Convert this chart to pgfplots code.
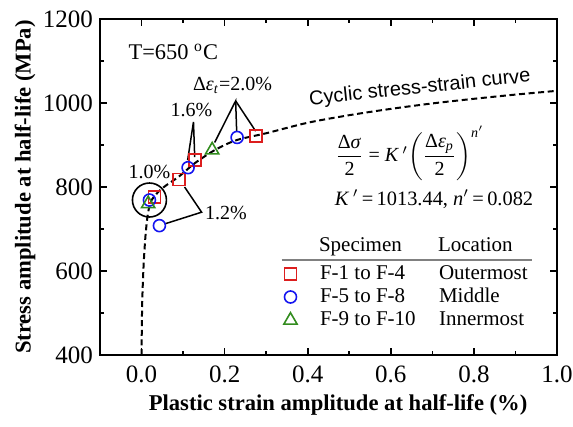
\documentclass[border=0pt]{standalone}
\usepackage{pgfplots}
\pgfplotsset{compat=1.18}
\usepackage{fontspec}
\setmainfont{Liberation Serif}
\newfontfamily\arialfont{Liberation Sans}
\definecolor{cred}{RGB}{220,30,30}
\definecolor{cblue}{RGB}{20,20,240}
\definecolor{cgreen}{RGB}{50,140,30}
\begin{document}
\begin{tikzpicture}
\begin{axis}[
  scale only axis, width=228.5pt, height=168pt,
  xmin=-0.1, xmax=1.0, ymin=400, ymax=1200,
  xtick={0,0.2,0.4,0.6,0.8,1.0}, ytick={400,600,800,1000,1200},
  minor x tick num=1, minor y tick num=1,
  tick align=inside, major tick length=3.5pt, minor tick length=2pt,
  /pgf/number format/assume math mode=true,
  /pgf/number format/1000 sep={},
  xticklabel style={yshift=-2pt, /pgf/number format/.cd, fixed, fixed zerofill, precision=1},
  axis line style={line width=1pt},
  every tick/.style={line width=0.8pt, black},
  tick label style={font=\fontsize{12.5}{14}\selectfont},
  label style={font=\fontsize{11.3}{13}\selectfont},
  xlabel={\textbf{Plastic strain amplitude at half-life (\%)}},
  ylabel={\textbf{Stress amplitude at half-life (MPa)}},
  xlabel style={at={(axis description cs:0.521,-0.1488)}, anchor=center},
  ylabel style={at={(axis description cs:-0.164,0.5)}, anchor=center},
  clip=false,
  legend style={at={(axis cs:0.302,700)}, anchor=north west, draw=none, fill=none,
    font=\fontsize{10.5}{12}\selectfont, row sep=-1pt},
  legend cell align=left,
]
\addlegendimage{empty legend}
\addlegendentry{\raisebox{2.5pt}{\hspace{9pt}\makebox[59.5pt][l]{Specimen}Location}}

\addplot[black, line width=1pt, dash pattern=on 3pt off 1.8pt, smooth, tension=0.5, forget plot] coordinates {
(0.0,400) (0.0015,520) (0.005,615) (0.01,690) (0.016,740) (0.025,770) (0.05,797)
(0.09,825) (0.13,858) (0.18,890) (0.23,912) (0.3,928) (0.4,953) (0.5,971)
(0.6,986) (0.7,999) (0.8,1010) (0.9,1020) (1.0,1029)};

\addplot[only marks, mark=square, mark size=3pt, cred, line width=0.8pt] coordinates {
(0.031,776) (0.090,818) (0.129,864) (0.276,921)};
\addlegendentry{\hspace{9.5pt}\makebox[59.5pt][l]{F-1 to F-4}Outermost}
\addplot[only marks, mark=o, mark size=3pt, cblue, line width=0.8pt] coordinates {
(0.019,769) (0.043,708) (0.112,846) (0.230,918)};
\addlegendentry{\hspace{9.5pt}\makebox[59.5pt][l]{F-5 to F-8}Middle}
\addplot[only marks, mark=triangle, mark size=3.8pt, cgreen, line width=0.8pt] coordinates {
(0.016,760) (0.170,888)};
\addlegendentry{\hspace{9.5pt}\makebox[59.5pt][l]{F-9 to F-10}Innermost}

% header rule
\draw[gray, line width=1pt] (axis cs:0.337,626) -- (axis cs:0.94,626);

% annotations
\node[anchor=west, font=\fontsize{11.2}{13}\selectfont] at (axis cs:-0.048,1121) {T=650 \textsuperscript{o}C};
\node[font=\arialfont\fontsize{10}{12}\selectfont, rotate=6] at (axis cs:0.67,1035) {Cyclic stress-strain curve};
\node[font=\fontsize{10}{12}\selectfont] at (axis cs:0.646,880)
  {$\displaystyle\frac{\mbox{Δ\textit{σ}}}{\mbox{2}}\mbox{ = \textit{K}\,$'$}\!\left(\frac{\mbox{Δ\textit{ε}\textsubscript{\textit{p}}}}{\mbox{2}}\right)^{\mbox{\scriptsize\textit{n}$'$}}$};
\node[font=\fontsize{10.2}{12}\selectfont] at (axis cs:0.704,771) {\textit{K}\,$'$\,=\,1013.44, \textit{n}$'$\,=\,0.082};

\draw[line width=0.8pt] (axis cs:0.019,769) circle[radius=8.5pt];
\node[font=\fontsize{10}{12}\selectfont] at (axis cs:0.019,836) {1.0\%};

\node[anchor=west, font=\fontsize{10}{12}\selectfont, inner sep=1pt] at (axis cs:0.147,738) {1.2\%};
\draw[line width=0.75pt] (axis cs:0.1036,800) -- (axis cs:0.1446,740) -- (axis cs:0.0554,712);

\node[font=\fontsize{10}{12}\selectfont] at (axis cs:0.12,983) {1.6\%};
\draw[line width=0.75pt] (axis cs:0.111,864) -- (axis cs:0.125,955) -- (axis cs:0.128,871);

\node[font=\fontsize{10}{12}\selectfont] at (axis cs:0.219,1043) {Δ\textit{ε}\textsubscript{\textit{t}}=2.0\%};
\draw[line width=0.75pt] (axis cs:0.176,906) -- (axis cs:0.2265,1005) -- (axis cs:0.229,931);
\draw[line width=0.75pt] (axis cs:0.2265,1005) -- (axis cs:0.2747,933);
\end{axis}
\pgfresetboundingbox
\path ([xshift=-50pt,yshift=-36pt]current axis.south west) rectangle ([xshift=8pt,yshift=9.5pt]current axis.north east);
\end{tikzpicture}
\end{document}
